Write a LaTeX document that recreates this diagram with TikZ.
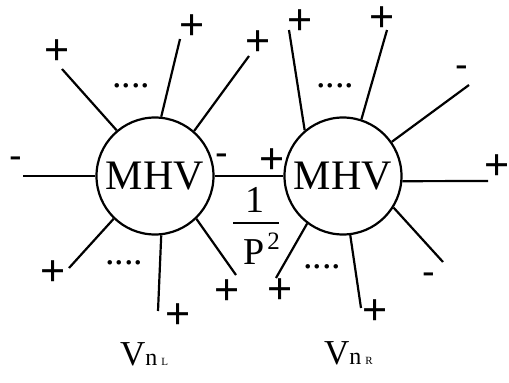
\documentclass[tikz,border=0pt]{standalone}
\usepackage{fontspec}
\setmainfont{Liberation Serif}
\newfontfamily\signfont{Liberation Sans}

\begin{document}
\begin{tikzpicture}[x=1pt,y=-1pt,line width=2.2pt,
			vertex/.style={circle,draw,minimum size=117pt,inner sep=0pt,font=\fontsize{42}{42}\selectfont},
			sgn/.style={inner sep=0pt,font=\signfont\fontsize{43}{43}\selectfont},
			neg/.style={inner sep=0pt,font=\signfont\fontsize{38}{38}\selectfont},
			txt/.style={inner sep=0pt,font=\fontsize{38}{38}\selectfont}]
			\useasboundingbox (0,0) rectangle (509,383);
			% the two vertices
			\node[vertex] (L) at (155,176) {MHV};
			\node[vertex] (R) at (343,176) {MHV};
			% free ends of the legs
			\coordinate (a1) at (62,69);
			\coordinate (a2) at (180,39);
			\coordinate (a3) at (249,56);
			\coordinate (a4) at (23,176);
			\coordinate (a6) at (69,268);
			\coordinate (a7) at (158,311);
			\coordinate (a8) at (236,275);
			\coordinate (b1) at (289,30);
			\coordinate (b2) at (387,30);
			\coordinate (b3) at (469,85);
			\coordinate (b4) at (488,181);
			\coordinate (b5) at (276,278);
			\coordinate (b6) at (361,308);
			\coordinate (b7) at (443,262);
			\draw (L.130) -- (a1);
			\draw (L.84)  -- (a2);
			\draw (L.49)  -- (a3);
			\draw (L.west) -- (a4);
			\draw (L.-134) -- (a6);
			\draw (L.-84) -- (a7);
			\draw (L.-46) -- (a8);
			\draw (L.east) -- (R.west);
			\draw (R.130) -- (b1);
			\draw (R.72)  -- (b2);
			\draw (R.35)  -- (b3);
			\draw (R.-5)  -- (b4);
			\draw (R.-127) -- (b5);
			\draw (R.-83) -- (b6);
			\draw (R.-32) -- (b7);
			% helicities
			\node[sgn] (h1) at (57,52)   {+};
			\node[sgn] (h2) at (192,27)  {+};
			\node[sgn] (h3) at (258,43)  {+};
			\node[neg] (h4) at (16,163)  {-};
			\node[neg] (h5) at (222,160) {-};
			\node[sgn] (h6) at (53,273)  {+};
			\node[sgn] (h7) at (178,316) {+};
			\node[sgn] (h8) at (227,292) {+};
			\node[sgn] (k1) at (300,22)  {+};
			\node[sgn] (k2) at (382,19)  {+};
			\node[neg] (k3) at (462,72)  {-};
			\node[sgn] (k4) at (497,167) {+};
			\node[sgn] (k5) at (272,161) {+};
			\node[sgn] (k6) at (280,291) {+};
			\node[sgn] (k7) at (375,312) {+};
			\node[neg] (k8) at (429,279) {-};
			% dots
			\node[txt] (dL1) at (131,86)  {....};
			\node[txt] (dL2) at (124,263) {....};
			\node[txt] (dR1) at (335,86)  {....};
			\node[txt] (dR2) at (322,267) {....};
			% propagator
			\node[txt] (one) at (255,200) {1};
			\coordinate (barl) at (233,223);
			\coordinate (barr) at (279,223);
			\draw (barl) -- (barr);
			\node[txt] (P) at (254,252.5) {P};
			\node[inner sep=0pt,font=\fontsize{25}{25}\selectfont] (sq) at (273.5,241.5) {2};
			% vertex names
			\node[inner sep=0pt,anchor=base west] (VL) at (119,365)
				{\fontsize{35}{35}\selectfont V\fontsize{24}{24}\selectfont n\kern4pt\fontsize{11}{11}\selectfont L};
			\node[inner sep=0pt,anchor=base west] (VR) at (323,364)
				{\fontsize{35}{35}\selectfont V\fontsize{24}{24}\selectfont n\kern4pt\fontsize{11}{11}\selectfont R};
		\end{tikzpicture}
\end{document}
